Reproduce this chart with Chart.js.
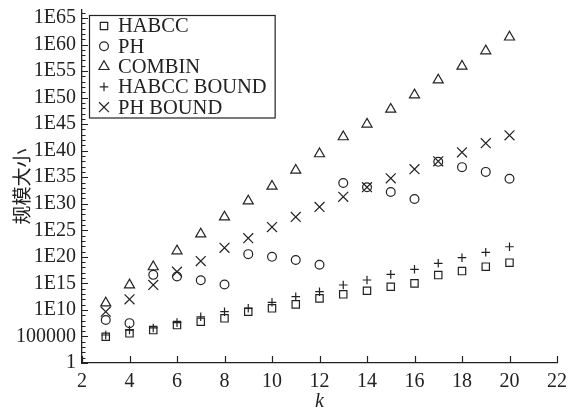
<!DOCTYPE html>
<html>
<head>
<meta charset="utf-8">
<script src="https://cdn.jsdelivr.net/npm/chart.js@4.4.1/dist/chart.umd.min.js"></script>
<style>
  html, body { margin: 0; padding: 0; background: #fff; }
</style>
</head>
<body>
<canvas id="chart" width="570" height="412"></canvas>
<script>
// values (log axis)
const k = [3, 4, 5, 6, 7, 8, 9, 10, 11, 12, 13, 14, 15, 16, 17, 18, 19, 20];
const habcc = [8.9e4, 3.9e5, 1.6e6, 1.4e7, 6.0e7, 2.6e8, 4.6e9, 2.0e10, 1.1e11, 1.5e12,
  8.7e12, 4.0e13, 2.3e14, 1.0e15, 3.7e16, 2.1e17, 1.4e18, 7.9e18];
const ph = [1.3e8, 3.2e7, 4.0e16, 2.0e16, 4.0e15, 6.3e14, 3.2e20, 1.0e20, 2.5e19, 3.2e18,
  7.9e33, 1.3e33, 1.6e32, 7.9e30, 7.9e37, 7.9e36, 1.0e36, 5.0e34];
const combin = [2.0e11, 5.0e14, 1.3e18, 1.3e21, 2.0e24, 3.2e27, 3.2e30, 2.0e33, 2.0e36, 2.5e39,
  4.0e42, 1.0e45, 6.3e47, 3.2e50, 2.0e53, 7.9e55, 6.3e58, 2.5e61];
const habccBound = [1.9e5, 1.6e6, 4.0e6, 4.0e7, 5.2e8, 4.6e9, 2.0e10, 2.7e11, 3.1e12, 2.7e13,
  4.9e14, 4.3e15, 5.0e16, 4.5e17, 6.0e18, 6.8e19, 7.1e20, 7.9e21];
const phBound = [4.6e9, 1.0e12, 5.0e14, 1.6e17, 1.6e19, 5.0e21, 3.2e23, 4.0e25, 3.2e27, 2.5e29,
  2.0e31, 1.3e33, 6.3e34, 3.2e36, 1.0e38, 5.0e39, 2.5e41, 7.9e42];

const xTicks = [2, 4, 6, 8, 10, 12, 14, 16, 18, 20, 22];
const yDecades = [];           // minor tick every decade, label every 5
for (let e = 0; e <= 66; e++) yDecades.push(e);

const serif = '"Liberation Serif", "Times New Roman", serif';
const ink = '#222';

function pts(ys) {
  return k.map((x, i) => ({ x: x, y: ys[i] }));
}

function series(label, ys, style, r) {
  return {
    label: label,
    data: pts(ys),
    pointStyle: style,
    pointRadius: r,
    pointHoverRadius: r,
    borderColor: ink,
    backgroundColor: 'rgba(0,0,0,0)',
    borderWidth: 1.2,
    showLine: false
  };
}

function expLabel(e) {
  if (e === 0) return '1';
  if (e === 5) return '100000';
  return '1E' + e;
}

// tick marks pointing into the plot, like the original
const inwardTicks = {
  id: 'inwardTicks',
  afterDatasetsDraw(chart) {
    const { ctx, chartArea, scales } = chart;
    ctx.save();
    ctx.strokeStyle = ink;
    ctx.lineWidth = 1.2;
    ctx.beginPath();
    yDecades.forEach(e => {
      const py = Math.round(scales.y.getPixelForValue(Math.pow(10, e))) + 0.5;
      const len = e % 5 === 0 ? 6 : 3.5;
      ctx.moveTo(chartArea.left, py);
      ctx.lineTo(chartArea.left + len, py);
    });
    xTicks.forEach(v => {
      const px = Math.round(scales.x.getPixelForValue(v)) + 0.5;
      ctx.moveTo(px, chartArea.bottom);
      ctx.lineTo(px, chartArea.bottom - 7);
    });
    ctx.stroke();
    ctx.restore();
  }
};

// boxed legend in the upper left corner
const boxedLegend = {
  id: 'boxedLegend',
  afterDatasetsDraw(chart) {
    const { ctx, chartArea } = chart;
    const sets = chart.data.datasets;
    const left = chartArea.left + 7;
    const top = chartArea.top + 5;
    const rowH = 20.3;
    ctx.save();
    ctx.font = '20.5px ' + serif;
    const textW = Math.max(...sets.map(d => ctx.measureText(d.label).width));
    const w = 29 + textW + 8;
    const h = rowH * sets.length + 1;
    ctx.fillStyle = '#fff';
    ctx.fillRect(left, top, w, h);
    ctx.strokeStyle = ink;
    ctx.lineWidth = 1.2;
    ctx.strokeRect(left + 0.5, top + 0.5, w, h);
    sets.forEach((d, i) => {
      const cy = top + 11 + i * rowH;
      ctx.fillStyle = 'rgba(0,0,0,0)';
      ctx.strokeStyle = d.borderColor;
      ctx.lineWidth = d.borderWidth;
      Chart.helpers.drawPoint(ctx, {
        pointStyle: d.pointStyle, radius: d.pointRadius, rotation: 0, borderWidth: d.borderWidth
      }, left + 15, cy);
      ctx.fillStyle = ink;
      ctx.textBaseline = 'middle';
      ctx.textAlign = 'left';
      ctx.fillText(d.label, left + 29, cy + 1);
    });
    ctx.restore();
  }
};

new Chart(document.getElementById('chart'), {
  type: 'scatter',
  data: {
    datasets: [
      series('HABCC', habcc, 'rect', 5.2),
      series('PH', ph, 'circle', 4.4),
      series('COMBIN', combin, 'triangle', 5.8),
      series('HABCC BOUND', habccBound, 'cross', 4.3),
      series('PH BOUND', phBound, 'crossRot', 7)
    ]
  },
  options: {
    responsive: false,
    animation: false,
    layout: { padding: { top: 10, right: 13, bottom: 0, left: 0 } },
    plugins: {
      legend: { display: false },
      tooltip: { enabled: false }
    },
    scales: {
      x: {
        type: 'linear',
        min: 2,
        max: 22,
        afterBuildTicks(scale) {
          scale.ticks = xTicks.map(v => ({ value: v }));
        },
        afterFit(scale) {
          scale.height = 49;
          scale.paddingLeft = 0;
          scale.paddingRight = 0;
        },
        grid: { display: false, drawTicks: false },
        border: { display: true, color: ink, width: 1.3 },
        ticks: {
          color: ink,
          padding: 7,
          maxRotation: 0,
          font: { family: serif, size: 20 }
        },
        title: {
          display: true,
          text: 'k',
          color: ink,
          padding: { top: 0, bottom: 0 },
          font: { family: serif, size: 20, style: 'italic', lineHeight: 1 }
        }
      },
      y: {
        type: 'logarithmic',
        min: 1,
        max: 3.16e66,
        afterBuildTicks(scale) {
          scale.ticks = yDecades.map(e => ({ value: Math.pow(10, e), major: e % 5 === 0 }));
        },
        afterFit(scale) {
          scale.width = 82;
          scale.paddingTop = 0;
          scale.paddingBottom = 0;
        },
        grid: { display: false, drawTicks: false },
        border: { display: true, color: ink, width: 1.3 },
        ticks: {
          color: ink,
          padding: 6,
          autoSkip: false,
          font: { family: serif, size: 20 },
          callback(value) {
            const e = Math.round(Math.log10(value));
            return e % 5 === 0 ? expLabel(e) : '';
          }
        },
        title: {
          display: true,
          text: '规模大小',
          color: ink,
          padding: { top: 10, bottom: 0 },
          font: { family: '"Noto Sans CJK SC", sans-serif', size: 19 }
        }
      }
    }
  },
  plugins: [inwardTicks, boxedLegend]
});
</script>
</body>
</html>
